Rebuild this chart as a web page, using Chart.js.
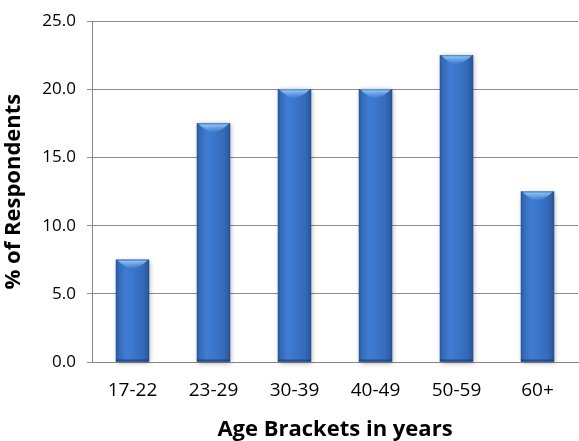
<!DOCTYPE html>
<html>
<head>
<meta charset="utf-8">
<script src="https://cdn.jsdelivr.net/npm/chart.js@4/dist/chart.umd.min.js"></script>
<style>
  html, body { margin: 0; padding: 0; background: #ffffff; }
  #wrap { width: 579px; height: 441px; position: relative; }
</style>
</head>
<body>
<div id="wrap"><canvas id="c" width="579" height="441"></canvas></div>
<script>
// Share of respondents by age bracket
const ageBrackets = ['17-22', '23-29', '30-39', '40-49', '50-59', '60+'];
const respondentPct = [7.5, 17.5, 20.0, 20.0, 22.5, 12.5];
const yTickValues = [0, 5, 10, 15, 20, 25];

const FONT = '"Open Sans", "Liberation Sans", sans-serif';

// Soft drop shadow behind each bar and a cylinder-like shading on top of it
const cylinderBars = {
  id: 'cylinderBars',
  beforeDatasetsDraw(chart) {
    const ctx = chart.ctx;
    const meta = chart.getDatasetMeta(0);
    ctx.save();
    meta.data.forEach(bar => {
      const left = bar.x - bar.width / 2;
      const top = bar.y;
      const h = bar.base - bar.y;
      ctx.shadowColor = 'rgba(0,0,0,0.35)';
      ctx.shadowBlur = 5;
      ctx.shadowOffsetX = 1;
      ctx.shadowOffsetY = 1;
      ctx.fillStyle = '#3569b3';
      ctx.fillRect(left, top, bar.width, h);
    });
    ctx.restore();
  },
  afterDatasetsDraw(chart) {
    const ctx = chart.ctx;
    const meta = chart.getDatasetMeta(0);
    ctx.save();
    meta.data.forEach(bar => {
      const w = bar.width;
      const left = bar.x - w / 2;
      const top = bar.y;
      const h = bar.base - bar.y;
      const g = ctx.createLinearGradient(left, 0, left + w, 0);
      g.addColorStop(0.00, '#2a5597');
      g.addColorStop(0.08, '#3469b6');
      g.addColorStop(0.30, '#3f7dd3');
      g.addColorStop(0.50, '#3b77cb');
      g.addColorStop(0.80, '#346bbb');
      g.addColorStop(0.94, '#2d5ea6');
      g.addColorStop(1.00, '#244d8c');
      ctx.fillStyle = g;
      ctx.fillRect(left, top, w, h);

      // light cap at the top of the cylinder
      const capH = 9;
      const cg = ctx.createLinearGradient(0, top, 0, top + capH);
      cg.addColorStop(0, 'rgba(160,212,255,1)');
      cg.addColorStop(1, 'rgba(110,175,240,0.1)');
      ctx.fillStyle = cg;
      ctx.beginPath();
      ctx.moveTo(left + 1, top);
      ctx.lineTo(left + w - 1, top);
      ctx.quadraticCurveTo(left + w * 0.72, top + capH * 0.9, left + w / 2, top + capH);
      ctx.quadraticCurveTo(left + w * 0.28, top + capH * 0.9, left + 1, top);
      ctx.closePath();
      ctx.fill();

      // thin edge along the top
      ctx.fillStyle = 'rgba(40,80,140,0.6)';
      ctx.fillRect(left, top, w, 1);
      // darker base line
      ctx.fillStyle = 'rgba(30,60,110,0.7)';
      ctx.fillRect(left, bar.base - 2, w, 2);
    });
    ctx.restore();
  }
};

new Chart(document.getElementById('c'), {
  type: 'bar',
  data: {
    labels: ageBrackets,
    datasets: [{
      data: respondentPct,
      backgroundColor: '#3569b3',
      borderWidth: 0,
      categoryPercentage: 1.0,
      barPercentage: 0.41
    }]
  },
  plugins: [cylinderBars],
  options: {
    responsive: false,
    animation: false,
    events: [],
    layout: { padding: { top: 18, right: 1, left: 0, bottom: 0 } },
    plugins: { legend: { display: false }, tooltip: { enabled: false } },
    scales: {
      x: {
        grid: { display: false, drawTicks: false },
        border: { display: true, color: '#868686', width: 1 },
        ticks: { color: '#000000', font: { family: FONT, size: 19 }, padding: 17 },
        title: {
          display: true,
          text: 'Age Brackets in years',
          color: '#000000',
          font: { family: FONT, size: 22, weight: 'bold' },
          padding: { top: 8, bottom: -2 }
        },
        afterFit(scale) { scale.height = 79; }
      },
      y: {
        min: 0,
        max: 25,
        afterBuildTicks(scale) { scale.ticks = yTickValues.map(v => ({ value: v })); },
        grid: { color: '#8c8c8c', lineWidth: 1, tickLength: 5, drawTicks: true },
        border: { display: true, color: '#868686', width: 1 },
        ticks: {
          color: '#000000',
          font: { family: FONT, size: 17 },
          padding: 11,
          callback: v => Number(v).toFixed(1)
        },
        title: {
          display: true,
          text: '% of Respondents',
          color: '#000000',
          font: { family: FONT, size: 22, weight: 'bold' },
          padding: { top: 1, bottom: 4 }
        },
        afterFit(scale) { scale.width = 92; }
      }
    }
  }
});
</script>
</body>
</html>
